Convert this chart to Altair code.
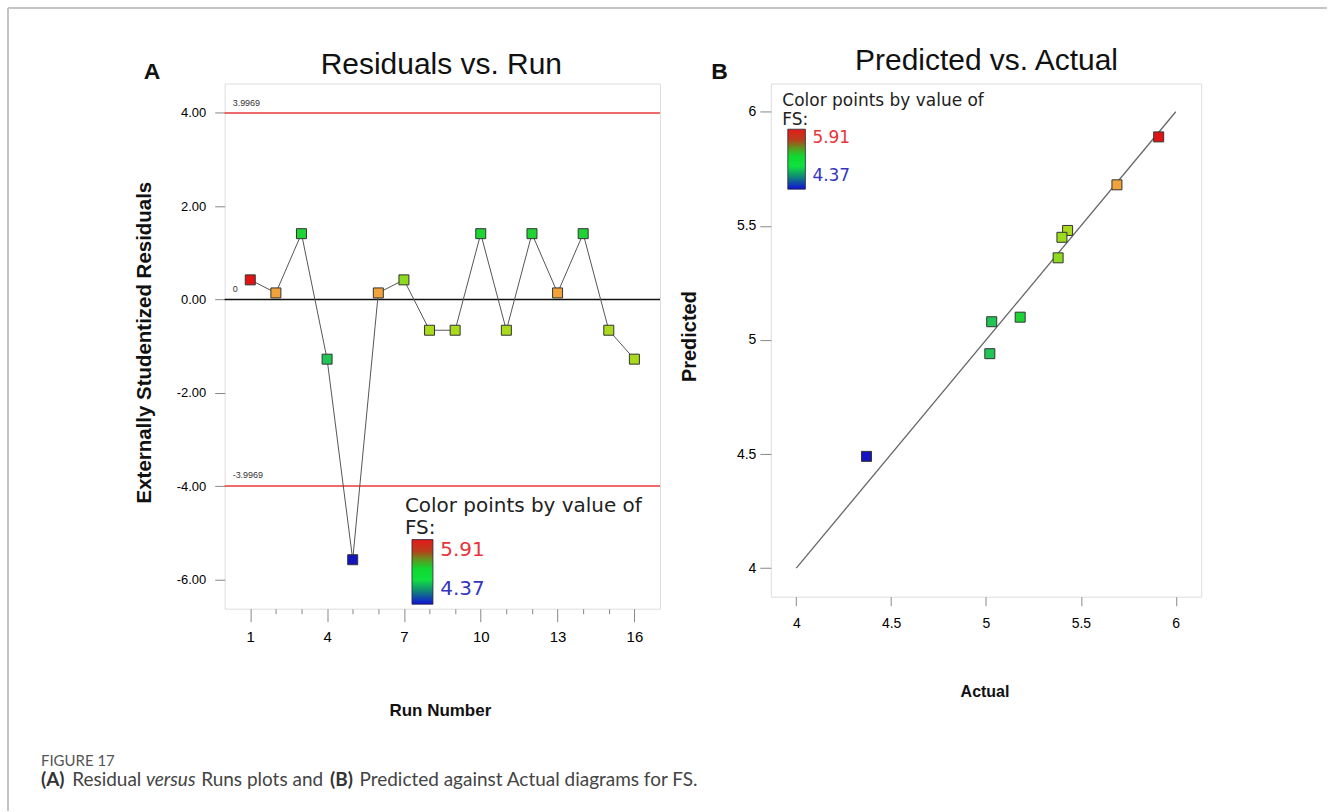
import altair as alt
import pandas as pd

FONT = "Liberation Sans"
LEG_FONT = "DejaVu Sans"
CAP_FONT = "Lato"

# ---------------- data ----------------
runs = list(range(1, 17))
residuals = [0.42, 0.14, 1.41, -1.28, -5.58, 0.14, 0.42, -0.66,
             -0.66, 1.41, -0.66, 1.41, 0.14, 1.41, -0.66, -1.28]
run_fs = [5.91, 5.69, 5.18, 5.02, 4.37, 5.69, 5.38, 5.43,
          5.43, 5.18, 5.43, 5.18, 5.69, 5.18, 5.43, 5.43]
limit_values = [3.9969, -3.9969, 0]
limit_labels = ["3.9969", "-3.9969", "0"]
limit_kind = ["limit", "limit", "zero"]

actual = [5.91, 5.69, 5.43, 5.40, 5.38, 5.03, 5.18, 5.02, 4.37]
predicted = [5.89, 5.68, 5.48, 5.45, 5.36, 5.08, 5.10, 4.94, 4.49]
fit_line = [4, 6]

run_ticks = runs
res_ticks = [-6, -4, -2, 0, 2, 4]
pa_ticks = [4, 4.5, 5, 5.5, 6]

color_domain = [4.37, 5.0, 5.2, 5.42, 5.69, 5.91]
color_range = ["#1414c0", "#22c25a", "#1ed630", "#a6dc1c", "#f2a23a", "#e01414"]
legend_stops = [(0.0, "#e41a1a"), (0.18, "#b8401a"), (0.32, "#5a9a20"),
                (0.45, "#10d830"), (0.62, "#10e040"), (0.78, "#109070"), (1.0, "#1010d8")]

LEFT_W, LEFT_H = 436, 526
RIGHT_W, RIGHT_H = 431, 514

color_scale = alt.Scale(domain=color_domain, range=color_range, interpolate="rgb")
one = alt.Data(values=[{"k": 1}])


def txt(text, x, y, size, color="#111", weight="normal", align="center",
        baseline="alphabetic", angle=0, font=FONT, style="normal"):
    return alt.Chart(alt.Data(values=[{"t": text}])).mark_text(
        align=align, baseline=baseline, fontSize=size, fontWeight=weight,
        color=color, angle=angle, font=font, fontStyle=style
    ).encode(x=alt.value(x), y=alt.value(y), text="t:N")


def gradient_bar(x1, x2, y1, y2):
    return alt.Chart(one).mark_rect(
        fill={"gradient": "linear", "x1": 0, "y1": 0, "x2": 0, "y2": 1,
              "stops": [{"offset": o, "color": c} for o, c in legend_stops]},
        stroke="#223", strokeWidth=0.8,
    ).encode(x=alt.value(x1), x2=alt.value(x2), y=alt.value(y1), y2=alt.value(y2))


# ---------------- left panel ----------------
left_df = pd.DataFrame({"run": runs, "res": residuals, "fs": run_fs})
lim_df = pd.DataFrame({"v": limit_values, "lab": limit_labels, "kind": limit_kind})

x_run_scale = alt.Scale(domain=[0, 17], nice=False, zero=False)
y_res_scale = alt.Scale(domain=[-6.63, 4.63], nice=False, zero=False)
x_run_axis = alt.Axis(
    values=run_ticks, title=None, grid=False, domain=False,
    labelExpr="(datum.value - 1) % 3 == 0 ? datum.label : ''",
    tickSize={"condition": {"test": "(datum.value - 1) % 3 == 0", "value": 13}, "value": 5},
    labelPadding=8, labelFontSize=15,
)
y_res_axis = alt.Axis(
    values=res_ticks, title=None, grid=False, domain=False, tickSize=10,
    labelPadding=9, labelFontSize=13,
    labelExpr="(datum.value < 0 ? '-' : '') + format(abs(datum.value), '.2f')",
)


def xr(field):
    return alt.X(field, scale=x_run_scale, axis=x_run_axis)


def yr(field):
    return alt.Y(field, scale=y_res_scale, axis=y_res_axis)


limit_rules = alt.Chart(lim_df).transform_filter(alt.datum.kind == "limit").mark_rule(
    color="#e8383d", strokeWidth=1.5).encode(y=yr("v:Q"))
zero_rule = alt.Chart(lim_df).transform_filter(alt.datum.kind == "zero").mark_rule(
    color="#111", strokeWidth=1.5).encode(y=yr("v:Q"))
limit_text = alt.Chart(lim_df).mark_text(
    align="left", baseline="middle", dy=-10.5, fontSize=9, color="#333", font=FONT
).encode(y=yr("v:Q"), x=alt.value(8), text="lab:N")
res_line = alt.Chart(left_df).mark_line(color="#555", strokeWidth=1).encode(
    x=xr("run:Q"), y=yr("res:Q"))
res_pts = alt.Chart(left_df).mark_square(size=100, opacity=1, stroke="#333", strokeWidth=1).encode(
    x=xr("run:Q"), y=yr("res:Q"),
    color=alt.Color("fs:Q", scale=color_scale, legend=None))

# page border (top and left hairlines of the figure frame)
border_top = alt.Chart(one).mark_rule(color="#c4c4c4", strokeWidth=2).encode(
    x=alt.value(-217), x2=alt.value(1104), y=alt.value(-75.5))
border_left = alt.Chart(one).mark_rule(color="#c4c4c4", strokeWidth=2).encode(
    x=alt.value(-217), y=alt.value(-75.5), y2=alt.value(728.5))

CAP_Y = 704
CAP_S = 19
left_annos = [
    txt("Residuals vs. Run", 217, -9.2, 30),
    txt("A", -81, -4.2, 23, weight="bold", align="left"),
    txt("Externally Studentized Residuals", -79.6, 259.5, 20.5, weight="bold",
        angle=270, baseline="middle"),
    txt("Run Number", 216, 633.5, 17, weight="bold"),
    txt("Color points by value of", 180.5, 423.5, 20, color="#222", align="left",
        baseline="middle", font=LEG_FONT),
    txt("FS:", 180.5, 445.5, 20, color="#222", align="left", baseline="middle", font=LEG_FONT),
    gradient_bar(187.6, 208.6, 456.8, 521.5),
    txt("5.91", 216, 467, 20, color="#e8333a", align="left", baseline="middle", font=LEG_FONT),
    txt("4.37", 216, 506.5, 20, color="#3535c0", align="left", baseline="middle", font=LEG_FONT),
    # caption
    txt("FIGURE 17", -184, 684, 15, color="#555", align="left", font=CAP_FONT),
    txt("(A)", -184, CAP_Y, CAP_S, color="#333", weight="bold", align="left", font=CAP_FONT),
    txt("Residual", -152.7, CAP_Y, CAP_S, color="#444", align="left", font=CAP_FONT),
    txt("versus", -78.9, CAP_Y, CAP_S, color="#444", align="left", font=CAP_FONT, style="italic"),
    txt("Runs plots and", -23.5, CAP_Y, CAP_S, color="#444", align="left", font=CAP_FONT),
    txt("(B)", 105.5, CAP_Y, CAP_S, color="#333", weight="bold", align="left", font=CAP_FONT),
    txt("Predicted against Actual diagrams for FS.", 135, CAP_Y, CAP_S, color="#444",
        align="left", font=CAP_FONT),
]

left = alt.layer(border_top, border_left, limit_rules, zero_rule, limit_text, res_line,
                 res_pts, *left_annos).properties(width=LEFT_W, height=LEFT_H)

# ---------------- right panel ----------------
pa_df = pd.DataFrame({"actual": actual, "pred": predicted, "fs": actual})
fit_df = pd.DataFrame({"a": fit_line, "p": fit_line})

xa_scale = alt.Scale(domain=[3.866, 6.134], nice=False, zero=False)
ya_scale = alt.Scale(domain=[3.875, 6.124], nice=False, zero=False)
xa_axis = alt.Axis(values=pa_ticks, title=None, grid=False, domain=False, format="~g",
                   tickSize=9, labelPadding=11, labelFontSize=14)
ya_axis = alt.Axis(values=pa_ticks, title=None, grid=False, domain=False, format="~g",
                   tickSize=11, labelPadding=4, labelFontSize=14)

fit = alt.Chart(fit_df).mark_line(color="#666", strokeWidth=1.3).encode(
    x=alt.X("a:Q", scale=xa_scale, axis=xa_axis),
    y=alt.Y("p:Q", scale=ya_scale, axis=ya_axis))
pa_pts = alt.Chart(pa_df).mark_square(size=100, opacity=1, stroke="#333", strokeWidth=1).encode(
    x=alt.X("actual:Q", scale=xa_scale, axis=xa_axis),
    y=alt.Y("pred:Q", scale=ya_scale, axis=ya_axis),
    color=alt.Color("fs:Q", scale=color_scale, legend=None))

right_annos = [
    txt("Predicted vs. Actual", 216, -13.2, 30),
    txt("B", -59.8, -4.2, 23, weight="bold", align="left"),
    txt("Predicted", -80.5, 253.5, 20, weight="bold", angle=270, baseline="middle"),
    txt("Actual", 214.5, 614.5, 16, weight="bold"),
    txt("Color points by value of", 11.5, 17.5, 17, color="#222", align="left",
        baseline="middle", font=LEG_FONT),
    txt("FS:", 11.5, 36.5, 17, color="#222", align="left", baseline="middle", font=LEG_FONT),
    gradient_bar(17, 34.6, 45.8, 105.8),
    txt("5.91", 41.6, 54.8, 17, color="#e8333a", align="left", baseline="middle", font=LEG_FONT),
    txt("4.37", 41.6, 92.5, 17, color="#3535c0", align="left", baseline="middle", font=LEG_FONT),
]

right = alt.layer(fit, pa_pts, *right_annos).properties(width=RIGHT_W, height=RIGHT_H)

chart = alt.hconcat(left, right, spacing=111, bounds="flush").properties(
    padding={"left": 6, "top": 6, "right": 0, "bottom": 0}
).configure_view(
    stroke="#4a4a4a", strokeWidth=1.5
).configure_axis(
    labelFont=FONT, labelColor="#333", tickColor="#444", tickWidth=1.2
).configure(background="white")

chart.save("out.html", embed_options={"renderer": "svg", "actions": False})
